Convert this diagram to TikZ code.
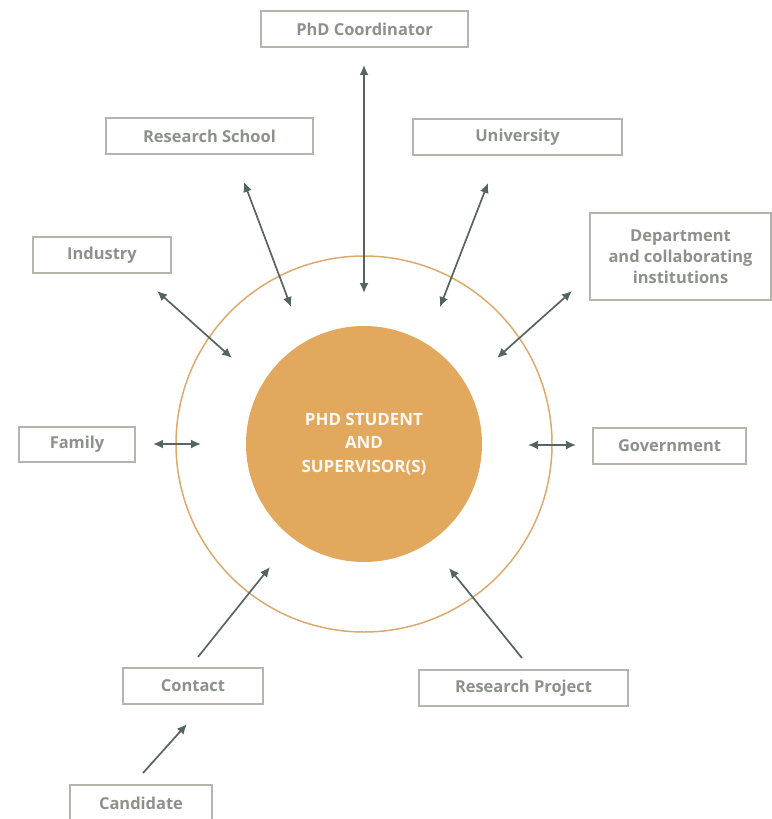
\documentclass[tikz,border=0pt]{standalone}
\usepackage{fontspec}
\setmainfont{Open Sans}
\usetikzlibrary{arrows.meta}
\definecolor{boxline}{HTML}{B4B6AE}
\definecolor{boxtext}{HTML}{8C918A}
\definecolor{arrowgrey}{HTML}{56645F}
\definecolor{ringline}{HTML}{DBAA6C}
\definecolor{hubfill}{HTML}{E2A85E}
\tikzset{
  every picture/.style={
    line width=1pt
  },
  party/.style={draw=boxline, line width=1.2pt, align=center, text=boxtext,
    font=\fontsize{16.5}{21}\selectfont\bfseries, inner sep=0pt},
  link/.style={draw=arrowgrey, line width=1.7pt, {Latex[length=10pt,width=9pt]}-{Latex[length=10pt,width=9pt]}},
  oneway/.style={draw=arrowgrey, line width=1.7pt, -{Latex[length=10pt,width=9pt]}}
}

\begin{document}
\begin{tikzpicture}[x=1bp, y=1bp]
  \useasboundingbox (0,0) rectangle (772,-819);
  \fill[white] (0,0) rectangle (772,-819);

  % ring and centre
  \draw[ringline, line width=1.5pt] (364,-444) circle (188);
  \node[circle, fill=hubfill, minimum size=236bp, inner sep=0pt, align=center,
    text=white!92!hubfill, font=\fontsize{17}{23.5}\selectfont\bfseries] (hub) at (364,-444)
    {PHD STUDENT\\AND\\SUPERVISOR(S)};

  % outside parties
  \node[party, minimum width=207bp, minimum height=36bp] (coord) at (364.5,-29) {PhD Coordinator};
  \node[party, minimum width=207bp, minimum height=36bp] (school) at (209.5,-136) {Research School};
  \node[party, minimum width=209bp, minimum height=36bp] (univ) at (517.5,-137) {University};
  \node[party, minimum width=138bp, minimum height=36bp] (industry) at (102,-255) {Industry};
  \node[party, minimum width=181bp, minimum height=87bp] (dept) at (680.5,-256.5)
    {Department\\and collaborating\\institutions};
  \node[party, minimum width=116bp, minimum height=35bp] (family) at (77,-444.5) {Family};
  \node[party, minimum width=153bp, minimum height=36bp] (govt) at (669.5,-446) {Government};
  \node[party, minimum width=140bp, minimum height=36bp] (contact) at (193,-686) {Contact};
  \node[party, minimum width=209bp, minimum height=36bp] (project) at (523.5,-688) {Research Project};
  \node[party, minimum width=142bp, minimum height=36bp] (cand) at (141,-803) {Candidate};

  % arrow ends
  \coordinate (coordA) at (364,-65);   \coordinate (coordB) at (364,-293);
  \coordinate (schoolA) at (244,-182); \coordinate (schoolB) at (291,-307);
  \coordinate (univA) at (488,-183);   \coordinate (univB) at (440,-307);
  \coordinate (indA) at (157,-291);    \coordinate (indB) at (232,-358);
  \coordinate (deptA) at (572,-291);   \coordinate (deptB) at (497,-358);
  \coordinate (famA) at (153,-444);    \coordinate (famB) at (201,-444);
  \coordinate (govA) at (528,-445);    \coordinate (govB) at (576,-445);
  \coordinate (conA) at (198,-657);    \coordinate (conB) at (270,-567);
  \coordinate (proA) at (522,-658);    \coordinate (proB) at (449,-568);
  \coordinate (canA) at (143,-773);    \coordinate (canB) at (187,-724);

  \draw[link] (coordA) -- (coordB);
  \draw[link] (schoolA) -- (schoolB);
  \draw[link] (univA) -- (univB);
  \draw[link] (indA) -- (indB);
  \draw[link] (deptA) -- (deptB);
  \draw[link] (famA) -- (famB);
  \draw[link] (govA) -- (govB);
  \draw[oneway] (conA) -- (conB);
  \draw[oneway] (proA) -- (proB);
  \draw[oneway] (canA) -- (canB);
\end{tikzpicture}
\end{document}
